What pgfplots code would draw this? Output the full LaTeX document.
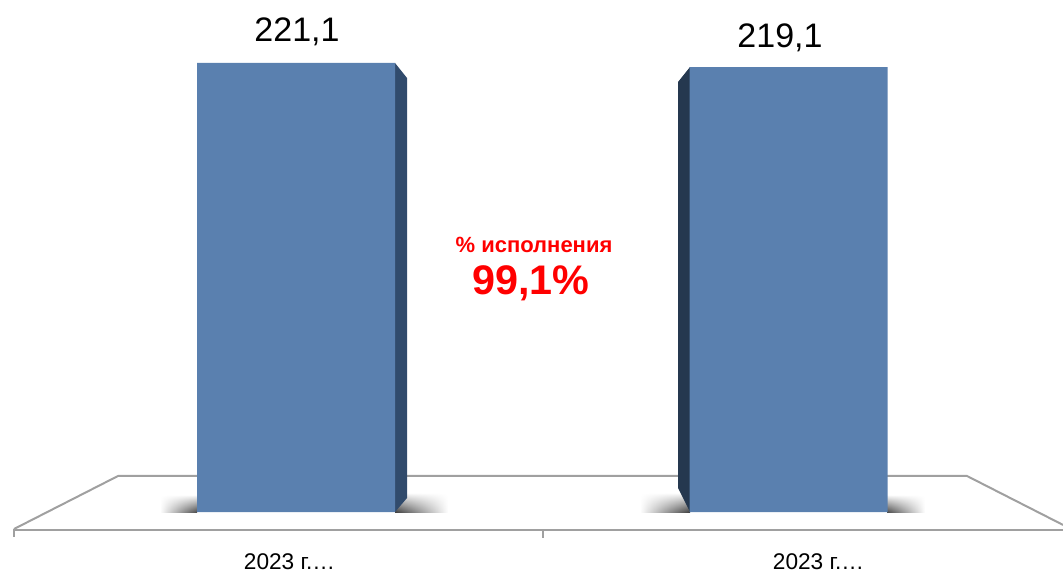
\documentclass[border=0pt]{standalone}
\usepackage{pgfplots}
\pgfplotsset{compat=1.18}
\usetikzlibrary{fadings}
\usepackage{fontspec}
\setmainfont{Liberation Sans}
\definecolor{barblue}{HTML}{5A80AF}
\definecolor{sideA}{HTML}{314B6C}
\definecolor{sideB}{HTML}{25384F}
\definecolor{floorgray}{HTML}{A0A0A0}
\begin{document}
\begin{tikzpicture}
\begin{axis}[
  scale only axis,
  width=797.25pt, height=432pt,
  xmin=0, xmax=1063,
  ymin=-31.515, ymax=252.12,
  hide axis,
  clip=true,
]
% floor (trapezoid)
\addplot[floorgray, line width=1.5pt] coordinates {(14,-8.37) (118,17.73) (967,17.73) (1063,-6.35)};
\addplot[floorgray, line width=1.5pt] coordinates {(14,-8.86) (1063,-8.86)};
% ticks
\addplot[floorgray, line width=1.2pt] coordinates {(14,-8.37) (14,-12.31)};
\addplot[floorgray, line width=1.2pt] coordinates {(543,-8.86) (543,-12.8)};
% shadows
\shade[left color=white, right color=black!70, path fading=north] (axis cs:160,0) rectangle (axis cs:197,8.5);
\shade[left color=black!75, right color=white, path fading=north] (axis cs:395,0) rectangle (axis cs:448,9.5);
\shade[left color=white, right color=black!75, path fading=north] (axis cs:640,0) rectangle (axis cs:690,9.5);
\shade[left color=black!70, right color=white, path fading=north] (axis cs:887,0) rectangle (axis cs:925,8.5);
% side faces
\addplot[fill=sideA, draw=none] coordinates {(395,221.1) (407,213.71) (407,6.89) (395,0)} --cycle;
\addplot[fill=sideB, draw=none] coordinates {(690,219.1) (678,211.74) (678,11.82) (690,0)} --cycle;
% bars
\addplot[ybar, bar width=198, bar shift=0pt, fill=barblue, draw=none] coordinates {(296,221.1) (788.5,219.1)};
% value labels
\node[anchor=base, font=\fontsize{25.5pt}{30pt}\selectfont] at (axis cs:297,231.59) {221,1};
\node[anchor=base, font=\fontsize{25.5pt}{30pt}\selectfont] at (axis cs:780,228.49) {219,1};
% category labels
\node[anchor=base, font=\fontsize{17pt}{20pt}\selectfont] at (axis cs:289.5,-28.07) {2023 г.…};
\node[anchor=base, font=\fontsize{17pt}{20pt}\selectfont] at (axis cs:818.5,-28.07) {2023 г.…};
% red annotation
\node[anchor=base, text=red, font=\bfseries\fontsize{16.5pt}{20pt}\selectfont] at (axis cs:534,127.54) {\% исполнения};
\node[anchor=base, text=red, font=\bfseries\fontsize{31pt}{36pt}\selectfont] at (axis cs:531,106.86) {99,1\%};
\end{axis}
\path (current axis.south west) rectangle (current axis.north east);
\end{tikzpicture}
\end{document}
